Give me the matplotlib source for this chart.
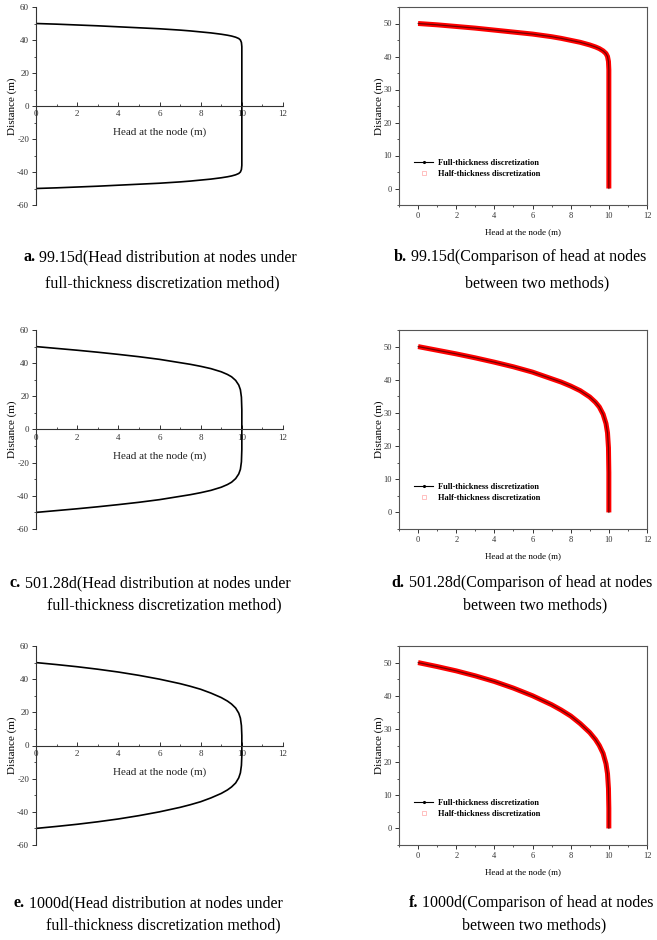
import matplotlib
matplotlib.use("Agg")
import matplotlib.pyplot as plt
from matplotlib.lines import Line2D
from matplotlib.ticker import MultipleLocator

plt.rcParams["font.family"] = ["Liberation Serif", "DejaVu Serif"]
plt.rcParams["axes.unicode_minus"] = False

# head at the node (m) and distance above the middle (m)
h_99 = [0, 1, 2, 3, 4, 5, 6, 7, 7.5, 8, 8.5, 9, 9.3, 9.5, 9.7, 9.85, 9.93, 9.98, 10, 10]
z_99 = [50, 49.6, 49.1, 48.6, 48.0, 47.4, 46.8, 46.0, 45.5, 44.9, 44.3, 43.5, 42.9, 42.4, 41.7, 40.9, 40.0, 38.5, 36, 0]

h_501 = [0, 1, 2, 3, 4, 5, 6, 7, 7.5, 8, 8.5, 9, 9.3, 9.5, 9.7, 9.85, 9.93, 9.98, 10, 10]
z_501 = [50, 48.9, 47.8, 46.6, 45.3, 43.9, 42.3, 40.3, 39.3, 38.1, 36.7, 34.8, 33.2, 31.8, 29.6, 26.8, 24.0, 19.5, 12, 0]

h_1000 = [0, 1, 2, 3, 4, 5, 6, 7, 7.5, 8, 8.5, 9, 9.3, 9.5, 9.7, 9.85, 9.93, 9.98, 10, 10]
z_1000 = [50, 48.8, 47.5, 46.0, 44.3, 42.3, 40.0, 37.3, 35.7, 33.9, 31.6, 28.9, 26.8, 25.0, 22.6, 19.5, 16.5, 12, 6, 0]

# half-thickness results coincide with the full-thickness ones
full_h = [h_99, h_501, h_1000]
full_z = [z_99, z_501, z_1000]
half_h = [h_99, h_501, h_1000]
half_z = [z_99, z_501, z_1000]

cap_left = [("a.", " 99.15d(Head distribution at nodes under"),
            ("c.", " 501.28d(Head distribution at nodes under"),
            ("e.", " 1000d(Head distribution at nodes under")]
cap_right = [("b.", " 99.15d(Comparison of head at nodes"),
             ("d.", " 501.28d(Comparison of head at nodes"),
             ("f.", " 1000d(Comparison of head at nodes")]
cap_left2 = "full-thickness discretization method)"
cap_right2 = "between two methods)"

W, H = 657, 940
fig = plt.figure(figsize=(W / 100, H / 100), dpi=100)

rows_px = [(7, 205), (330, 529), (646, 845)]
cap_y = [(257, 283), (583, 605), (903, 925)]
cap_lx = [(160, 162), (150, 164), (148, 163)]
cap_rx = [(520, 537), (522, 535), (531, 534)]

def px_ax(x0, x1, y0, y1):
    return fig.add_axes([x0 / W, 1 - y1 / H, (x1 - x0) / W, (y1 - y0) / H])

for i in range(3):
    top, bot = rows_px[i]

    # left: whole profile, x axis crossing at zero
    ax = px_ax(36, 283, top, bot)
    ax.plot(full_h[i], full_z[i], color="black", lw=1.2)
    ax.plot(full_h[i], [-v for v in full_z[i]], color="black", lw=1.2)
    ax.set_xlim(0, 12)
    ax.set_ylim(-60, 60)
    ax.spines["top"].set_visible(False)
    ax.spines["right"].set_visible(False)
    ax.spines["bottom"].set_position(("data", 0))
    for s in ["left", "bottom"]:
        ax.spines[s].set_color("#333333")
        ax.spines[s].set_linewidth(0.8)
    ax.xaxis.set_major_locator(MultipleLocator(2))
    ax.xaxis.set_minor_locator(MultipleLocator(1))
    ax.yaxis.set_major_locator(MultipleLocator(20))
    ax.yaxis.set_minor_locator(MultipleLocator(10))
    ax.tick_params(axis="x", which="both", direction="in", labelsize=6.5, pad=3, colors="#333333")
    ax.tick_params(axis="y", which="both", direction="out", labelsize=6.5, pad=2, colors="#333333")
    ax.tick_params(which="major", length=3, width=0.7)
    ax.tick_params(which="minor", length=1.5, width=0.6)
    ax.set_ylabel("Distance (m)", fontsize=8)
    ax.yaxis.set_label_coords(-0.075, 0.5)
    ax.text(6, -16, "Head at the node (m)", ha="center", va="center", fontsize=8, color="#222222")

    # right: comparison of the two methods
    ax2 = px_ax(399, 647, top, bot)
    ax2.plot(half_h[i], half_z[i], color="red", lw=3.6, solid_capstyle="butt")
    ax2.plot(full_h[i], full_z[i], color="black", lw=0.9, alpha=0.55)
    ax2.set_xlim(-1, 12)
    ax2.set_ylim(-5, 55)
    for s in ax2.spines.values():
        s.set_color("#555555")
        s.set_linewidth(0.8)
    ax2.xaxis.set_major_locator(MultipleLocator(2))
    ax2.xaxis.set_minor_locator(MultipleLocator(1))
    ax2.yaxis.set_major_locator(MultipleLocator(10))
    ax2.yaxis.set_minor_locator(MultipleLocator(5))
    ax2.tick_params(which="both", direction="out", labelsize=6, pad=2, colors="#333333")
    ax2.tick_params(which="major", length=3, width=0.7)
    ax2.tick_params(which="minor", length=1.5, width=0.6)
    ax2.set_xlabel("Head at the node (m)", fontsize=6.5, labelpad=6)
    ax2.set_ylabel("Distance (m)", fontsize=8)
    ax2.yaxis.set_label_coords(-0.062, 0.5)
    handles = [Line2D([], [], color="black", lw=0.8, marker=".", markersize=2.5),
               Line2D([], [], color="red", lw=0, marker="s", markersize=2.5,
                      markerfacecolor="none", alpha=0.35, markeredgewidth=0.5)]
    ax2.legend(handles, ["Full-thickness discretization", "Half-thickness discretization"],
               loc="lower left", bbox_to_anchor=(0.03, 0.1), frameon=False,
               prop={"weight": "bold", "size": 6}, handlelength=2.3, labelspacing=0.35,
               handletextpad=0.6)

# captions under each panel
cap = fig.add_axes([0, 0, 1, 1])
cap.set_xlim(0, W)
cap.set_ylim(H, 0)
cap.axis("off")

def caption(xc, y, bold, rest, size=11.5):
    t = cap.text(0, y, bold, fontsize=size, fontweight="bold", ha="left", va="center")
    r = cap.annotate(rest, xy=(1, 0), xycoords=t, ha="left", va="bottom", fontsize=size)
    fig.canvas.draw()
    w = t.get_window_extent().width + r.get_window_extent().width
    t.set_x(xc - w / 2)

for i in range(3):
    y1, y2 = cap_y[i]
    caption(cap_lx[i][0], y1, *cap_left[i])
    cap.text(cap_lx[i][1], y2, cap_left2, fontsize=11.5, ha="center", va="center")
    caption(cap_rx[i][0], y1, *cap_right[i])
    cap.text(cap_rx[i][1], y2, cap_right2, fontsize=11.5, ha="center", va="center")

fig.savefig("out.png", dpi=100)
